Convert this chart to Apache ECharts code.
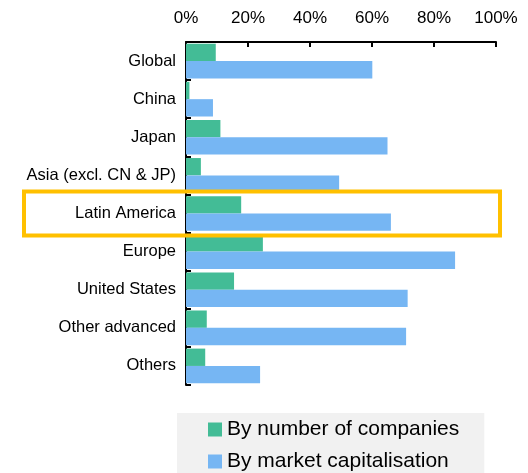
<!DOCTYPE html>
<html>
<head>
<meta charset="utf-8">
<script src="https://cdn.jsdelivr.net/npm/echarts@6/dist/echarts.min.js"></script>
<style>
  html, body { margin: 0; padding: 0; background: #fff; }
  #chart { width: 528px; height: 473px; }
</style>
</head>
<body>
<div id="chart"></div>
<script>
// regions, top to bottom
const regions = ['Global', 'China', 'Japan', 'Asia (excl. CN & JP)', 'Latin America',
  'Europe', 'United States', 'Other advanced', 'Others'];
// share in %
const byCompanies = [9.6, 1.1, 11.1, 4.8, 17.8, 24.8, 15.5, 6.7, 6.2];
const byMarketCap = [60.1, 8.7, 65.0, 49.4, 66.1, 86.8, 71.5, 71.0, 23.9];
const xTicks = [0, 20, 40, 60, 80, 100];
const highlighted = 'Latin America';

const font = '"Liberation Sans", Arial, sans-serif';

const chart = echarts.init(document.getElementById('chart'));

const option = {
  animation: false,
  textStyle: { fontFamily: font },
  grid: { left: 186, right: 32, top: 42, bottom: 88, outerBoundsMode: 'none', containLabel: false },
  legend: {
    orient: 'vertical',
    left: 177,
    top: 413,
    height: 90,
    padding: [6, 25, 6, 31],
    itemGap: 11,
    itemWidth: 14,
    itemHeight: 14,
    backgroundColor: '#f1f1f1',
    icon: 'rect',
    textStyle: { fontFamily: font, fontSize: 21, color: '#000' },
    data: ['By number of companies', 'By market capitalisation']
  },
  xAxis: {
    type: 'value',
    position: 'top',
    min: xTicks[0],
    max: xTicks[xTicks.length - 1],
    interval: 20,
    splitLine: { show: false },
    axisLine: { show: true, lineStyle: { color: '#000', width: 2 } },
    axisTick: { show: true, inside: true, length: 5, lineStyle: { color: '#000', width: 2 } },
    axisLabel: { formatter: '{value}%', fontSize: 17, color: '#000', margin: 15, fontFamily: font }
  },
  yAxis: {
    type: 'category',
    inverse: true,
    data: regions,
    axisLine: { show: true, lineStyle: { color: '#000', width: 2 } },
    axisTick: { show: true, inside: true, length: 5, lineStyle: { color: '#000', width: 2 } },
    axisLabel: { fontSize: 16.5, color: '#000', margin: 10, fontFamily: font }
  },
  series: [
    {
      name: 'By number of companies',
      type: 'bar',
      data: byCompanies,
      barGap: '0%',
      barCategoryGap: '9%',
      itemStyle: { color: '#43bc96' }
    },
    {
      name: 'By market capitalisation',
      type: 'bar',
      data: byMarketCap,
      barGap: '0%',
      barCategoryGap: '9%',
      itemStyle: { color: '#76b6f3' }
    }
  ]
};

chart.setOption(option);

// orange frame round the highlighted region, placed from the category scale
const idx = regions.indexOf(highlighted);
const yMid = chart.convertToPixel({ yAxisIndex: 0 }, idx);
const band = Math.abs(chart.convertToPixel({ yAxisIndex: 0 }, idx + 1) - yMid);
const xEnd = chart.convertToPixel({ xAxisIndex: 0 }, 100);
chart.setOption({
  graphic: [{
    type: 'rect',
    z: 100,
    shape: { x: 24, y: yMid - band / 2 - 3, width: xEnd + 4 - 24, height: band + 6 },
    style: { fill: 'none', stroke: '#ffc000', lineWidth: 4 }
  }]
});
</script>
</body>
</html>
